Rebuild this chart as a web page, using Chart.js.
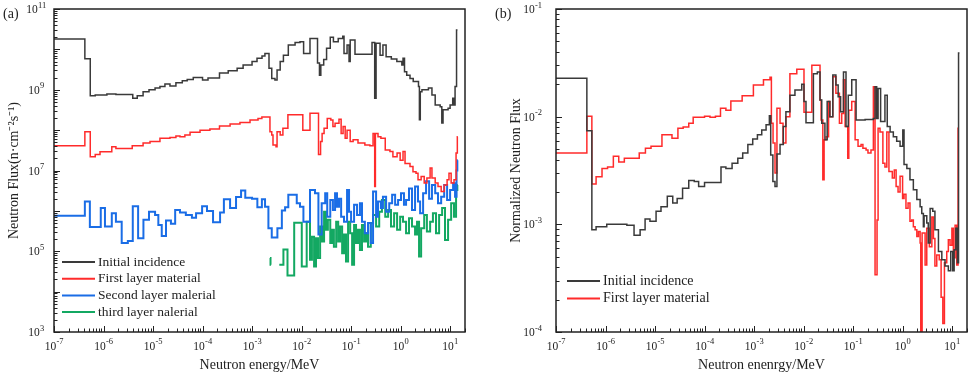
<!DOCTYPE html>
<html>
<head>
<meta charset="utf-8">
<script src="https://cdn.jsdelivr.net/npm/chart.js@4.4.0/dist/chart.umd.min.js"></script>
<style>
  body { margin: 0; background: #fff; }
  #wrap { position: relative; width: 969px; height: 378px; }
  canvas { position: absolute; top: 0; }
  #chartA { left: 0; }
  #chartB { left: 480px; }
</style>
</head>
<body>
<div id="wrap">
  <canvas id="chartA" width="480" height="378"></canvas>
  <canvas id="chartB" width="489" height="378"></canvas>
</div>
<script>
// ---- data (energy in MeV = bin start, flux = bin value; last point closes the last bin)
const namesA = ['Initial incidence', 'First layer material', 'Second layer malerial', 'third layer nalerial'];
const namesB = ['Initial incidence', 'First layer material'];

// exponents that get a "10^n" label
const xDecades = [-7, -6, -5, -4, -3, -2, -1, 0, 1];
const yDecadesA = [3, 5, 7, 9, 11];
const yDecadesB = [-4, -3, -2, -1];

const aIncE = [1e-7, 4.2e-7, 5.4e-7, 6.8e-7, 1.17e-6, 1.78e-6, 3.9e-6, 4.8e-6, 6.3e-6, 8.3e-6, 1.1e-5, 1.38e-5, 1.74e-5, 2.2e-5, 2.9e-5, 3.9e-5, 4.9e-5, 6.5e-5, 1.0e-4, 1.29e-4, 2.2e-4, 3.3e-4, 5.0e-4, 6.6e-4, 1.0e-3, 1.26e-3, 1.59e-3, 1.82e-3, 2.2e-3, 2.5e-3, 2.9e-3, 3.2e-3, 3.7e-3, 4.3e-3, 5.4e-3, 7.4e-3, 9.3e-3, 1.1e-2, 1.48e-2, 2.1e-2, 2.3e-2, 2.45e-2, 2.8e-2, 3.2e-2, 3.8e-2, 4.4e-2, 5.5e-2, 6.8e-2, 7.2e-2, 8.3e-2, 9.1e-2, 9.6e-2, 0.12, 0.265, 0.30, 0.32, 0.385, 0.44, 0.51, 0.65, 0.84, 1.06, 1.12, 1.2, 1.33, 1.55, 1.8, 2.3, 2.4, 2.5, 2.7, 3.65, 4.3, 5.0, 6.3, 6.8, 7.2, 9.1, 10, 11.3, 12.0, 12.6, 13.5, 14.1];
const aIncF = [1.8e10, 5.9e9, 7.1e8, 7.4e8, 7.9e8, 7.6e8, 6.2e8, 7.1e8, 8.9e8, 1.0e9, 1.1e9, 1.2e9, 1.38e9, 1.23e9, 1.5e9, 1.66e9, 1.8e9, 2.0e9, 1.74e9, 1.95e9, 2.6e9, 2.95e9, 3.4e9, 4.1e9, 5.0e9, 6.0e9, 6.9e9, 7.9e9, 3.4e9, 1.9e9, 1.74e9, 3.1e9, 5.0e9, 7.2e9, 1.29e10, 1.48e10, 1.55e10, 7.9e9, 1.86e10, 4.6e9, 2.3e9, 4.1e9, 5.6e9, 1.07e10, 2.0e10, 1.55e10, 1.86e10, 2.1e10, 7.9e9, 1.29e10, 5.0e9, 1.7e10, 7.6e9, 1.48e10, 6.2e8, 1.41e10, 7.2e9, 1.29e10, 6.6e9, 5.8e9, 5.0e9, 4.1e9, 6.0e9, 2.8e9, 2.3e9, 1.9e9, 1.6e9, 1.2e9, 1.8e8, 8.9e8, 1.0e9, 1.1e9, 7.4e8, 4.2e8, 3.8e8, 1.5e8, 3.2e8, 3.5e8, 4.2e8, 6.2e8, 4.2e8, 1.2e9, 3.0e10, 3.0e10];

const aFirstE = [1e-7, 4.2e-7, 5.4e-7, 6.8e-7, 8.5e-7, 1.47e-6, 1.78e-6, 3.8e-6, 6.3e-6, 8.7e-6, 1.38e-5, 2.2e-5, 2.9e-5, 3.5e-5, 4.4e-5, 5.6e-5, 8.9e-5, 1.41e-4, 2.2e-4, 3.6e-4, 5.7e-4, 9.1e-4, 1.32e-3, 1.58e-3, 2.3e-3, 2.5e-3, 2.65e-3, 3.05e-3, 3.2e-3, 3.7e-3, 4.2e-3, 5.3e-3, 1.06e-2, 1.48e-2, 2.2e-2, 2.42e-2, 2.6e-2, 2.85e-2, 3.3e-2, 3.9e-2, 4.3e-2, 4.75e-2, 5.7e-2, 6.3e-2, 6.9e-2, 7.6e-2, 8.3e-2, 9.6e-2, 0.11, 0.138, 0.19, 0.24, 0.278, 0.30, 0.31, 0.35, 0.40, 0.49, 0.61, 0.70, 0.85, 0.98, 1.12, 1.23, 1.55, 1.78, 2.05, 2.25, 2.6, 3.0, 3.4, 3.95, 4.3, 5.0, 5.7, 6.6, 7.6, 8.7, 9.5, 10.5, 12.0, 13.2, 14.0, 14.3];
const aFirstF = [4.1e7, 9.1e7, 2.2e7, 2.5e7, 2.9e7, 3.9e7, 3.5e7, 4.1e7, 4.8e7, 5.2e7, 6.3e7, 6.6e7, 7.2e7, 6.9e7, 7.6e7, 8.9e7, 1.0e8, 1.07e8, 1.26e8, 1.41e8, 1.55e8, 1.78e8, 1.95e8, 2.1e8, 9.1e7, 7.6e7, 4.3e7, 3.9e7, 9.1e7, 7.6e7, 1.12e8, 2.4e8, 1.0e8, 2.6e8, 2.5e7, 5.2e7, 8.3e7, 1.12e8, 1.95e8, 1.78e8, 1.23e8, 1.48e8, 1.86e8, 8.3e7, 1.23e8, 6.3e7, 1.0e8, 5.2e7, 5.8e7, 4.8e7, 4.3e7, 4.1e7, 8.3e7, 4.0e6, 8.3e7, 6.9e7, 6.3e7, 3.2e7, 2.95e7, 2.2e7, 2.7e7, 1.8e7, 2.95e7, 1.5e7, 1.26e7, 9.3e6, 8.5e6, 5.9e6, 7.1e6, 4.9e6, 6.5e6, 1.15e7, 6.5e6, 4.9e6, 4.0e6, 3.0e6, 4.4e6, 5.9e6, 8.5e6, 4.9e6, 5.9e6, 2.7e7, 6.9e7, 6.9e7];

const aSecondE = [1e-7, 4.2e-7, 5.3e-7, 8.8e-7, 1.07e-6, 1.47e-6, 1.78e-6, 2.33e-6, 3.1e-6, 3.9e-6, 5.0e-6, 6.4e-6, 8.3e-6, 1.1e-5, 1.28e-5, 1.5e-5, 1.83e-5, 2.3e-5, 2.8e-5, 3.5e-5, 4.6e-5, 6.1e-5, 7.4e-5, 9.8e-5, 1.23e-4, 1.63e-4, 2.26e-4, 2.7e-4, 3.6e-4, 4.75e-4, 6.0e-4, 7.3e-4, 1.0e-3, 1.28e-3, 1.58e-3, 1.83e-3, 2.14e-3, 2.5e-3, 3.25e-3, 4.0e-3, 4.65e-3, 5.4e-3, 8.0e-3, 9.3e-3, 1.09e-2, 1.48e-2, 1.87e-2, 2.19e-2, 2.55e-2, 3.0e-2, 3.3e-2, 3.8e-2, 4.3e-2, 4.75e-2, 5.2e-2, 5.7e-2, 6.3e-2, 7.2e-2, 8.3e-2, 9.1e-2, 0.10, 0.115, 0.132, 0.151, 0.166, 0.19, 0.22, 0.25, 0.278, 0.32, 0.35, 0.40, 0.44, 0.51, 0.59, 0.675, 0.776, 0.89, 1.02, 1.17, 1.29, 1.48, 1.7, 1.96, 2.25, 2.48, 2.85, 3.27, 3.77, 4.3, 5.0, 5.7, 6.6, 7.6, 8.7, 10, 11.5, 12.6, 13.5, 14.0, 14.3];
const aSecondF = [7.6e5, 1.7e6, 4.0e5, 1.17e6, 4.1e5, 8.7e5, 5.4e5, 1.6e5, 1.8e5, 1.3e6, 2.1e5, 6.0e5, 9.5e5, 7.9e5, 4.5e5, 2.4e5, 5.8e5, 4.8e5, 1.05e6, 9.1e5, 7.9e5, 6.8e5, 8.7e5, 1.3e6, 1.0e6, 5.2e5, 9.1e5, 1.95e6, 1.17e6, 2.2e6, 3.2e6, 2.1e6, 2.0e6, 1.23e6, 1.95e6, 1.26e6, 3.7e5, 2.2e5, 3.7e5, 1.02e6, 1.23e6, 2.5e6, 1.55e6, 1.26e6, 5.4e5, 3.3e6, 2.75e6, 2.6e5, 1.55e6, 2.75e6, 7.2e5, 1.86e6, 1.05e6, 2.75e6, 1.26e6, 2.0e6, 7.2e5, 5.4e5, 3.3e6, 9.5e5, 5.4e5, 1.41e6, 7.9e5, 1.55e6, 5.4e5, 2.8e5, 5.0e5, 1.6e5, 3.0e6, 7.2e5, 1.7e6, 1.17e6, 2.24e6, 9.5e5, 1.55e6, 2.5e6, 1.41e6, 1.86e6, 2.75e6, 1.41e6, 1.86e6, 3.6e6, 1.05e6, 4.0e6, 1.7e6, 8.7e5, 2.75e6, 5.4e6, 2.0e6, 4.4e6, 2.75e6, 1.55e6, 2.24e6, 4.4e6, 1.86e6, 3.3e6, 4.8e6, 2.24e6, 1.0e7, 1.8e7, 1.8e7];

const aThirdE = [2.3e-3, 2.36e-3, 2.42e-3, 2.9e-3, 3.55e-3, 4.3e-3, 5.2e-3, 7.1e-3, 1.01e-2, 1.27e-2, 1.48e-2, 1.62e-2, 1.79e-2, 1.96e-2, 2.15e-2, 2.37e-2, 2.6e-2, 2.85e-2, 3.1e-2, 3.4e-2, 3.8e-2, 4.1e-2, 4.5e-2, 5.0e-2, 5.5e-2, 6.0e-2, 6.6e-2, 7.2e-2, 7.9e-2, 8.7e-2, 9.6e-2, 0.105, 0.115, 0.126, 0.138, 0.151, 0.166, 0.183, 0.20, 0.22, 0.25, 0.278, 0.32, 0.37, 0.42, 0.49, 0.56, 0.64, 0.74, 0.85, 0.98, 1.12, 1.29, 1.48, 1.7, 1.96, 2.15, 2.36, 2.6, 3.0, 3.4, 3.95, 4.5, 5.2, 6.0, 6.9, 7.9, 9.1, 10.5, 12.0, 13.2, 14.0, 14.3];
const aThirdF = [6.8e4, 4.6e4, 4.6e4, null, 4.6e4, 1.1e5, 2.5e4, 5.1e5, 4.2e4, 5.4e5, 6.2e4, 2.3e5, 4.2e4, 2.1e5, 6.8e4, 4.1e5, 1.74e5, 9.5e5, 3.4e5, 6.0e5, 1.6e5, 3.4e5, 1.3e5, 5.4e5, 1.74e5, 4.1e5, 8.9e4, 2.6e5, 5.6e4, 5.4e5, 2.8e5, 4.6e4, 4.5e5, 1.6e5, 3.4e5, 1.07e5, 4.5e5, 1.74e5, 2.8e5, 1.3e5, 5.0e5, 7.9e5, 4.1e5, 9.5e5, 1.86e6, 7.2e5, 1.05e6, 4.1e5, 8.7e5, 3.4e5, 7.2e5, 5.4e5, 2.8e5, 6.6e5, 4.1e5, 2.6e5, 5.4e5, 7.4e4, 3.7e5, 7.9e5, 3.1e5, 5.4e5, 8.7e5, 2.8e5, 7.9e5, 1.17e6, 1.9e5, 6.0e5, 1.55e6, 7.2e5, 3.3e6, 4.4e6, 4.4e6];

const bIncE = [1e-7, 4.2e-7, 5.3e-7, 6.45e-7, 1.06e-6, 1.9e-6, 2.7e-6, 3.77e-6, 5.0e-6, 6.3e-6, 7.9e-6, 1.05e-5, 1.32e-5, 1.77e-5, 2.28e-5, 2.8e-5, 3.6e-5, 4.8e-5, 6.2e-5, 7.6e-5, 1.0e-4, 2.15e-4, 2.7e-4, 3.6e-4, 4.7e-4, 5.9e-4, 7.5e-4, 9.4e-4, 1.17e-3, 1.43e-3, 1.75e-3, 2.04e-3, 2.17e-3, 2.4e-3, 2.65e-3, 2.9e-3, 3.35e-3, 3.9e-3, 4.4e-3, 5.3e-3, 6.7e-3, 9.2e-3, 1.02e-2, 1.12e-2, 1.58e-2, 1.9e-2, 2.15e-2, 2.33e-2, 2.7e-2, 3.0e-2, 3.4e-2, 3.9e-2, 4.5e-2, 5.0e-2, 5.6e-2, 6.4e-2, 7.2e-2, 8.0e-2, 9.4e-2, 0.115, 0.175, 0.257, 0.278, 0.30, 0.32, 0.36, 0.44, 0.49, 0.56, 0.65, 0.76, 0.89, 1.01, 1.07, 1.22, 1.41, 1.65, 1.94, 2.26, 2.44, 2.63, 2.72, 3.08, 3.3, 3.6, 4.07, 4.5, 5.3, 6.2, 7.2, 8.4, 9.4, 10.3, 11.0, 11.9, 12.8, 13.5, 14.1];
const bIncF = [2.28e-2, 7.4e-3, 8.9e-4, 9.5e-4, 1.0e-3, 1.0e-3, 9.8e-4, 7.9e-4, 8.9e-4, 1.12e-3, 1.07e-3, 1.32e-3, 1.46e-3, 1.82e-3, 1.58e-3, 1.74e-3, 2.16e-3, 2.55e-3, 2.5e-3, 2.24e-3, 2.45e-3, 3.4e-3, 3.3e-3, 3.7e-3, 4.1e-3, 4.6e-3, 5.5e-3, 6.2e-3, 6.8e-3, 7.5e-3, 8.4e-3, 1.02e-2, 4.4e-3, 2.5e-3, 2.24e-3, 4.5e-3, 5.5e-3, 8.1e-3, 1.11e-2, 1.58e-2, 1.77e-2, 2.0e-2, 1.38e-2, 8.8e-3, 2.5e-2, 2.6e-2, 1.43e-2, 8.7e-3, 6.1e-3, 1.38e-2, 1.0e-2, 2.44e-2, 1.97e-2, 1.53e-2, 1.11e-2, 2.6e-2, 8.1e-3, 1.58e-2, 2.2e-2, 9.3e-3, 9.4e-3, 9.6e-3, 1.9e-2, 9.6e-3, 1.83e-2, 9.0e-3, 1.58e-2, 8.1e-3, 7.2e-3, 6.5e-3, 5.9e-3, 5.3e-3, 7.5e-3, 3.6e-3, 3.3e-3, 2.6e-3, 2.1e-3, 1.7e-3, 1.46e-3, 1.26e-3, 9.5e-4, 1.2e-3, 1.03e-3, 6.7e-4, 1.4e-3, 1.32e-3, 8.9e-4, 5.6e-4, 4.7e-4, 4.1e-4, 3.7e-4, 5.6e-4, 3.7e-4, 5.8e-4, 9.2e-4, 4.4e-4, 3.9e-2, 3.9e-2];

const bFirstE = [1e-7, 4.2e-7, 5.3e-7, 6.45e-7, 8.5e-7, 1.1e-6, 1.44e-6, 1.85e-6, 2.4e-6, 4.8e-6, 6.4e-6, 8.3e-6, 1.38e-5, 2.2e-5, 2.9e-5, 3.7e-5, 4.8e-5, 5.9e-5, 1.0e-4, 1.29e-4, 1.66e-4, 2.1e-4, 2.7e-4, 3.4e-4, 5.75e-4, 9.7e-4, 1.55e-3, 2.1e-3, 2.24e-3, 2.42e-3, 2.65e-3, 2.9e-3, 3.35e-3, 3.85e-3, 4.4e-3, 5.3e-3, 7.3e-3, 1.02e-2, 1.47e-2, 2.15e-2, 2.26e-2, 2.45e-2, 2.6e-2, 2.85e-2, 3.2e-2, 3.4e-2, 3.9e-2, 4.5e-2, 5.3e-2, 5.9e-2, 6.4e-2, 6.9e-2, 7.8e-2, 8.2e-2, 9.4e-2, 0.11, 0.126, 0.145, 0.158, 0.183, 0.20, 0.23, 0.257, 0.278, 0.305, 0.32, 0.35, 0.40, 0.44, 0.48, 0.53, 0.62, 0.68, 0.74, 0.81, 0.89, 1.0, 1.07, 1.17, 1.29, 1.41, 1.53, 1.65, 1.79, 1.94, 2.09, 2.26, 2.33, 2.48, 2.85, 3.08, 3.47, 3.9, 4.2, 4.5, 4.9, 5.5, 6.0, 6.5, 7.0, 7.8, 8.4, 9.1, 9.9, 10.6, 11.5, 12.4, 13.2, 13.8];
const bFirstF = [4.6e-3, 1.01e-2, 2.37e-3, 2.77e-3, 3.3e-3, 3.4e-3, 4.3e-3, 3.8e-3, 4.1e-3, 4.6e-3, 5.1e-3, 5.3e-3, 6.8e-3, 6.3e-3, 7.8e-3, 8.0e-3, 8.7e-3, 9.9e-3, 1.01e-2, 9.9e-3, 1.01e-2, 1.2e-2, 1.15e-2, 1.4e-2, 1.56e-2, 1.97e-2, 2.2e-2, 2.32e-2, 8.7e-3, 5.7e-3, 3.0e-3, 1.2e-2, 8.7e-3, 5.7e-3, 1.0e-2, 2.5e-2, 2.75e-2, 1.1e-2, 3.0e-2, 1.43e-2, 9.3e-3, 2.6e-3, 6.1e-3, 6.5e-3, 1.38e-2, 1.0e-2, 2.35e-2, 1.65e-2, 8.7e-3, 1.07e-2, 2.2e-2, 8.1e-3, 4.1e-3, 1.15e-2, 1.38e-2, 6.1e-3, 5.3e-3, 5.5e-3, 5.1e-3, 4.9e-3, 4.6e-3, 4.9e-3, 1.9e-2, 3.4e-4, 1.1e-3, 7.8e-3, 7.2e-3, 3.7e-3, 3.4e-3, 7.2e-3, 3.1e-3, 2.7e-3, 3.2e-3, 2.24e-3, 2.0e-3, 2.8e-3, 1.74e-3, 1.9e-3, 1.41e-3, 1.58e-3, 1.07e-3, 1.1e-3, 9.5e-4, 8.9e-4, 7.7e-4, 8.6e-4, 6.7e-4, 8e-5, 8.3e-4, 4.2e-4, 9.2e-4, 6.2e-4, 1.17e-3, 7.4e-4, 4.1e-4, 5.2e-4, 4.7e-4, 2.1e-4, 1.2e-4, 4.4e-4, 5.6e-4, 7.2e-4, 6.4e-4, 9.2e-4, 4.9e-4, 9.8e-4, 4.2e-4, 7.8e-3, 7.8e-3];

const colors = ['#3a3a3a', '#ff2b2b', '#1a6de6', '#13a862'];

// ---- helpers
const serif = 'Liberation Serif, Times New Roman, serif';
const isDecade = v => Math.abs(Math.log10(v) - Math.round(Math.log10(v))) < 1e-6;
const pts = (es, fs) => es.map((e, i) => ({ x: e, y: fs[i] }));

function decadeTicks(min, max) {
  const out = [];
  for (let e = Math.floor(Math.log10(min)); e <= Math.ceil(Math.log10(max)); e++) {
    for (let k = 1; k <= 9; k++) {
      const v = k * Math.pow(10, e);
      if (v >= min * 0.999 && v <= max * 1.001) out.push({ value: v });
    }
  }
  return out;
}

function logAxis(min, max, o) {
  return {
    type: 'logarithmic', min: min, max: max,
    afterBuildTicks: s => { s.ticks = decadeTicks(min, max); },
    afterFit: s => {
      o.fit(s);
      s.paddingTop = 0; s.paddingBottom = 0; s.paddingLeft = 0; s.paddingRight = 0;
    },
    grid: { display: false, drawTicks: false },
    border: { display: false },
    ticks: { display: false, autoSkip: false },
    title: { display: true, text: o.title, color: '#222', font: { family: serif, size: 14 }, padding: o.tpad }
  };
}

// "10" with a raised exponent, centred on cx
function drawPow(ctx, e, cx, base) {
  const ex = String(e);
  ctx.font = '11.5px ' + serif;
  const w1 = ctx.measureText('10').width;
  ctx.font = '8.5px ' + serif;
  const w2 = ctx.measureText(ex).width;
  const x0 = cx - (w1 + w2) / 2;
  ctx.font = '11.5px ' + serif;
  ctx.fillText('10', x0, base);
  ctx.font = '8.5px ' + serif;
  ctx.fillText(ex, x0 + w1 + 0.3, base - 5.5);
}

// frame, inside ticks, tick labels, legend and panel letter
const frame = {
  id: 'frame',
  afterDatasetsDraw(chart, args, o) {
    const { ctx, chartArea: a, scales: { x, y } } = chart;
    ctx.save();
    ctx.strokeStyle = '#222';
    ctx.lineWidth = 1;
    ctx.beginPath();
    x.ticks.forEach(t => {
      const px = Math.round(x.getPixelForValue(t.value)) + 0.5;
      ctx.moveTo(px, a.bottom);
      ctx.lineTo(px, a.bottom - (isDecade(t.value) ? 6 : 3.5));
    });
    y.ticks.forEach(t => {
      const py = Math.round(y.getPixelForValue(t.value)) + 0.5;
      ctx.moveTo(a.left, py);
      ctx.lineTo(a.left + (isDecade(t.value) ? 6 : 3.5), py);
    });
    ctx.stroke();
    ctx.lineWidth = 1.5;
    ctx.strokeRect(a.left, a.top, a.right - a.left, a.bottom - a.top);

    ctx.fillStyle = '#222';
    ctx.textAlign = 'left';
    ctx.textBaseline = 'alphabetic';
    x.ticks.forEach(t => {
      const e = Math.round(Math.log10(t.value));
      if (isDecade(t.value) && o.xDec.includes(e)) drawPow(ctx, e, x.getPixelForValue(t.value), a.bottom + 17.5);
    });
    y.ticks.forEach(t => {
      const e = Math.round(Math.log10(t.value));
      if (isDecade(t.value) && o.yDec.includes(e)) drawPow(ctx, e, a.left - o.yLabelOff, y.getPixelForValue(t.value) + 4);
    });
    ctx.restore();
  },
  afterDraw(chart, args, o) {
    const ctx = chart.ctx;
    ctx.save();
    ctx.fillStyle = '#222';
    ctx.textAlign = 'left';
    ctx.textBaseline = 'middle';
    ctx.font = '14px ' + serif;
    ctx.fillText(o.letter, o.letterX, 14);
    ctx.font = o.fontSize + 'px ' + serif;
    chart.data.datasets.forEach((ds, i) => {
      const yy = o.y0 + i * o.dy;
      ctx.strokeStyle = ds.borderColor;
      ctx.lineWidth = 2;
      ctx.beginPath();
      ctx.moveTo(o.x1, yy);
      ctx.lineTo(o.x2, yy);
      ctx.stroke();
      ctx.fillText(ds.label, o.tx, yy);
    });
    ctx.restore();
  }
};

function line(label, es, fs, color, w) {
  return { label: label, data: pts(es, fs), borderColor: color, borderWidth: w, stepped: true, pointRadius: 0, fill: false, spanGaps: false };
}

new Chart(document.getElementById('chartA'), {
  type: 'line',
  data: {
    datasets: [
      line(namesA[0], aIncE, aIncF, colors[0], 1.5),
      line(namesA[1], aFirstE, aFirstF, colors[1], 1.5),
      line(namesA[2], aSecondE, aSecondF, colors[2], 2),
      line(namesA[3], aThirdE, aThirdF, colors[3], 2)
    ]
  },
  options: {
    responsive: false, animation: false, devicePixelRatio: 1,
    layout: { padding: { left: 0, right: 15, top: 9, bottom: 0 } },
    plugins: {
      legend: { display: false }, tooltip: { enabled: false },
      frame: { letter: '(a)', letterX: 3, x1: 62, x2: 95, tx: 98, y0: 262, dy: 16.7, fontSize: 13.5,
               xDec: xDecades, yDec: yDecadesA, yLabelOff: 18 }
    },
    scales: {
      x: logAxis(1e-7, 20, { fit: s => { s.height = 46; }, title: 'Neutron energy/MeV', tpad: { top: 0, bottom: 4 } }),
      y: logAxis(1e3, 1e11, { fit: s => { s.width = 54; }, title: 'Neutron Flux(n\u00B7cm\u207B\u00B2s\u207B\u00B9)', tpad: { top: 6, bottom: 0 } })
    }
  },
  plugins: [frame]
});

new Chart(document.getElementById('chartB'), {
  type: 'line',
  data: {
    datasets: [
      line(namesB[0], bIncE, bIncF, colors[0], 1.5),
      line(namesB[1], bFirstE, bFirstF, colors[1], 1.5)
    ]
  },
  options: {
    responsive: false, animation: false, devicePixelRatio: 1,
    layout: { padding: { left: 0, right: 2, top: 9, bottom: 0 } },
    plugins: {
      legend: { display: false }, tooltip: { enabled: false },
      frame: { letter: '(b)', letterX: 15, x1: 87, x2: 120, tx: 123, y0: 281, dy: 17.6, fontSize: 14,
               xDec: xDecades, yDec: yDecadesB, yLabelOff: 23.5 }
    },
    scales: {
      x: logAxis(1e-7, 20, { fit: s => { s.height = 46; }, title: 'Neutron enenrgy/MeV', tpad: { top: 0, bottom: 4 } }),
      y: logAxis(1e-4, 1e-1, { fit: s => { s.width = 76; }, title: 'Normalized Neutron Flux', tpad: { top: 28, bottom: 0 } })
    }
  },
  plugins: [frame]
});
</script>
</body>
</html>
